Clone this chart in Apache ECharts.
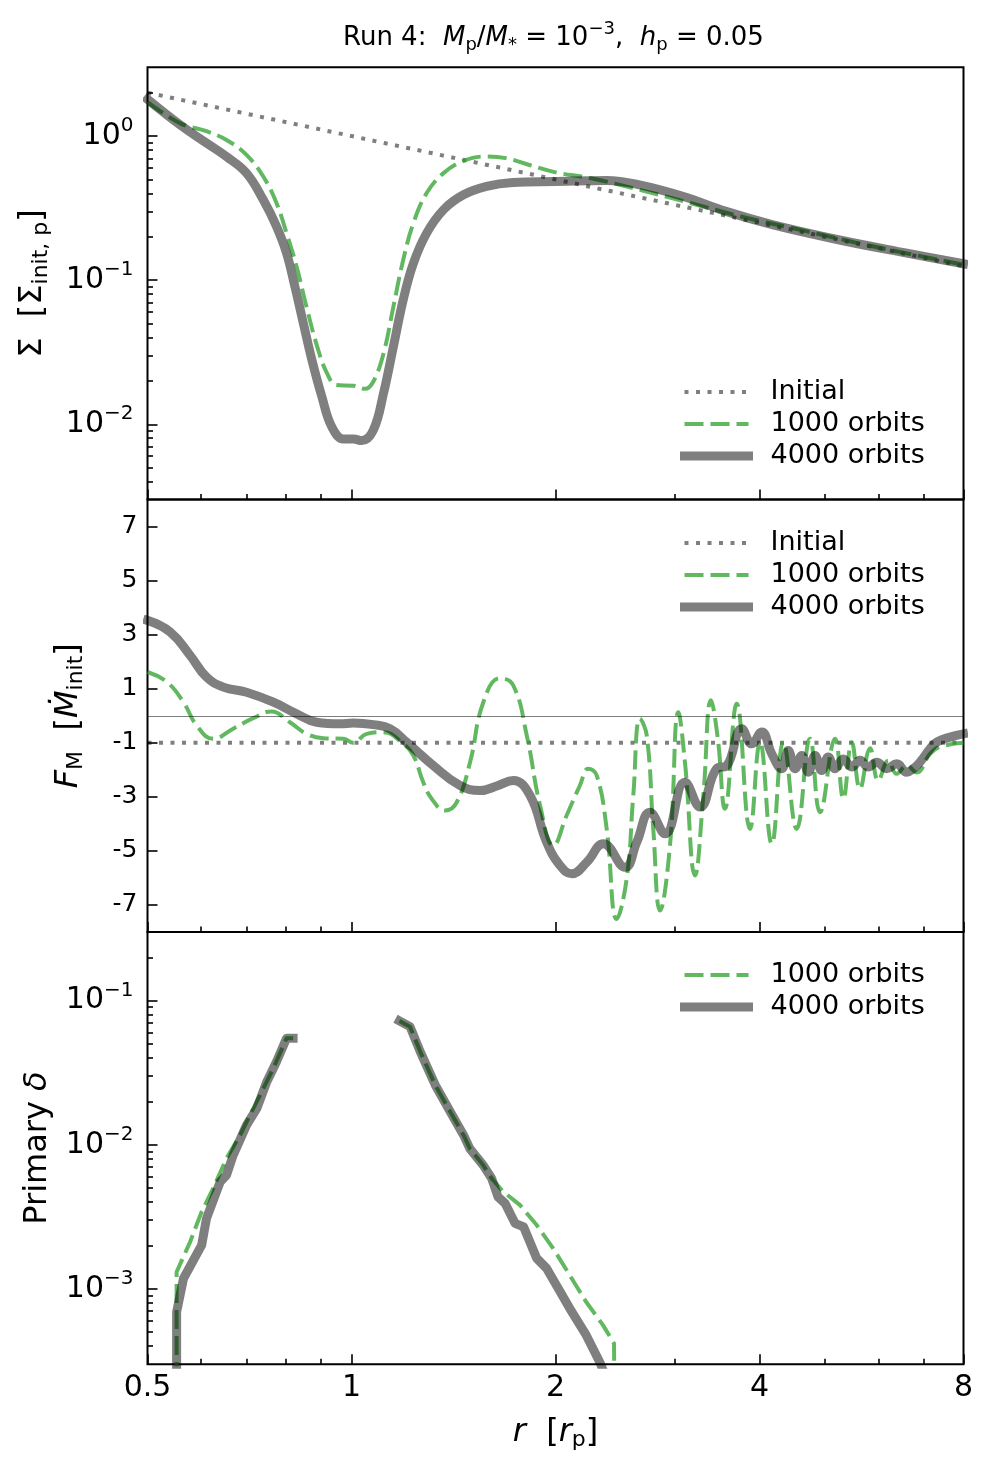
<!DOCTYPE html>
<html>
<head>
<meta charset="utf-8">
<script src="https://cdn.jsdelivr.net/npm/echarts@6/dist/echarts.min.js"></script>
<style>
  html, body { margin: 0; padding: 0; background: #fff; }
  #chart { width: 996px; height: 1478px; }
</style>
</head>
<body>
<div id="chart"></div>
<script>
// ---- ticks ----
const rMajor = [0.5, 1, 2, 4, 8];
const rMinor = [0.6, 0.7, 0.8, 0.9, 3, 5, 6, 7];
const sigmaMajor = [0.01, 0.1, 1];
const sigmaMinor = [0.004, 0.005, 0.006, 0.007, 0.008, 0.009,
  0.02, 0.03, 0.04, 0.05, 0.06, 0.07, 0.08, 0.09,
  0.2, 0.3, 0.4, 0.5, 0.6, 0.7, 0.8, 0.9, 2];
const fluxTicks = [-7, -5, -3, -1, 1, 3, 5, 7];
const deltaMajor = [0.001, 0.01, 0.1];
const deltaMinor = [0.0004, 0.0005, 0.0006, 0.0007, 0.0008, 0.0009,
  0.002, 0.003, 0.004, 0.005, 0.006, 0.007, 0.008, 0.009,
  0.02, 0.03, 0.04, 0.05, 0.06, 0.07, 0.08, 0.09, 0.2];

// ---- panel 1: surface density [r, Sigma] ----
const sigmaInit = [[0.5, 2], [1, 1], [2, 0.5], [4, 0.25], [8, 0.125]];
const sigma1000 = [[0.5, 1.72], [0.558, 1.23], [0.611, 1.08], [0.654, 0.94], [0.70, 0.74],
  [0.741, 0.524], [0.775, 0.343], [0.802, 0.212], [0.83, 0.124], [0.858, 0.0656],
  [0.89, 0.0346], [0.92, 0.0226], [0.95, 0.0187], [1.007, 0.0185], [1.047, 0.0176],
  [1.077, 0.0198], [1.115, 0.031], [1.153, 0.0656], [1.192, 0.138], [1.234, 0.249],
  [1.291, 0.402], [1.367, 0.553], [1.463, 0.673], [1.582, 0.722], [1.69, 0.703],
  [1.83, 0.63], [2.0, 0.56], [2.25, 0.511], [2.66, 0.424], [3.16, 0.343],
  [3.75, 0.277], [4.7, 0.218], [5.9, 0.171], [8, 0.128]];
const sigma4000 = [[0.5, 1.80], [0.558, 1.20], [0.611, 0.894], [0.654, 0.72], [0.70, 0.553],
  [0.741, 0.361], [0.775, 0.236], [0.802, 0.154], [0.825, 0.0903], [0.849, 0.0503],
  [0.874, 0.028], [0.904, 0.0156], [0.935, 0.0096], [0.973, 0.0079], [1.007, 0.0079],
  [1.035, 0.0077], [1.077, 0.0091], [1.115, 0.0164], [1.153, 0.0346], [1.192, 0.073],
  [1.234, 0.131], [1.291, 0.212], [1.367, 0.308], [1.463, 0.391], [1.582, 0.447],
  [1.73, 0.476], [2.0, 0.484], [2.38, 0.492], [2.66, 0.459], [3.09, 0.381],
  [3.57, 0.30], [4.19, 0.242], [5.25, 0.19], [6.6, 0.154], [8, 0.130]];

// ---- panel 2: mass flux [r, F_M] ----
const fluxInit = [[0.5, -1], [8, -1]];
const flux1000 = [[0.5, 1.62], [0.534, 1.25], [0.565, 0.5], [0.591, -0.36], [0.625, -0.85],
  [0.669, -0.48], [0.716, -0.09], [0.762, 0.16], [0.811, -0.24], [0.859, -0.67],
  [0.909, -0.83], [0.973, -0.85], [1.006, -1.0], [1.053, -0.67], [1.114, -0.61],
  [1.192, -1.04], [1.234, -1.47], [1.276, -2.46], [1.313, -3.07], [1.374, -3.51],
  [1.43, -3.2], [1.496, -1.72], [1.565, 0.5], [1.656, 1.39], [1.733, 1.12],
  [1.814, -0.73], [1.898, -3.32], [1.985, -4.8], [2.077, -3.69], [2.173, -2.58],
  [2.236, -1.96], [2.301, -2.21], [2.38, -4.19], [2.462, -7.52], [2.547, -6.04],
  [2.605, -2.95], [2.665, -0.11], [2.727, -0.73], [2.788, -4.19], [2.853, -7.21],
  [2.951, -4.8], [3.036, 0.13], [3.105, -1.72], [3.213, -5.91], [3.305, -2.95],
  [3.392, 0.57], [3.47, -0.8], [3.557, -3.44], [3.702, 0.44], [3.873, -4.19],
  [4.007, -0.98], [4.17, -4.74], [4.338, -0.98], [4.539, -4.19], [4.749, -0.85],
  [4.913, -3.57], [5.17, -0.85], [5.318, -3.07], [5.472, -0.98], [5.628, -2.7],
  [5.823, -1.2], [5.989, -2.4], [6.197, -1.66], [6.376, -2.15], [6.597, -1.84],
  [6.824, -2.1], [7.138, -1.41], [7.385, -1.15], [8, -1.0]];
const flux4000 = [[0.5, 3.53], [0.54, 3.1], [0.578, 2.23], [0.611, 1.43], [0.647, 1.06],
  [0.70, 0.87], [0.767, 0.5], [0.83, 0.07], [0.888, -0.24], [0.962, -0.3],
  [1.006, -0.27], [1.077, -0.33], [1.14, -0.48], [1.206, -0.98], [1.32, -1.84],
  [1.446, -2.58], [1.548, -2.77], [1.638, -2.6], [1.733, -2.4], [1.834, -2.95],
  [1.941, -4.68], [2.031, -5.54], [2.113, -5.85], [2.224, -5.42], [2.353, -4.74],
  [2.533, -5.61], [2.636, -4.68], [2.757, -3.57], [2.901, -4.37], [3.105, -2.46],
  [3.268, -3.38], [3.459, -1.95], [3.578, -1.85], [3.766, -0.48], [3.896, -1.04],
  [4.03, -0.6], [4.17, -1.41], [4.314, -1.96], [4.411, -1.29], [4.513, -1.96],
  [4.617, -1.47], [4.721, -2.09], [4.83, -1.47], [4.942, -2.03], [5.053, -1.53],
  [5.17, -1.96], [5.318, -1.6], [5.471, -1.9], [5.628, -1.65], [5.788, -1.9],
  [5.957, -1.72], [6.163, -1.96], [6.376, -1.78], [6.597, -2.09], [6.746, -1.96],
  [6.9, -1.72], [7.138, -1.23], [7.303, -0.98], [7.642, -0.79], [8, -0.67]];

// ---- panel 3: primary delta [r, delta], inner and outer branch ----
const deltaIn1000 = [[0.552, 0.0001], [0.552, 0.00131], [0.578, 0.00212], [0.601, 0.00343],
  [0.625, 0.00498], [0.654, 0.00805], [0.685, 0.01167], [0.708, 0.01606], [0.733, 0.0221],
  [0.767, 0.034], [0.802, 0.0548], [0.82, 0.0548]];
const deltaOut1000 = [[1.177, 0.0723], [1.22, 0.066], [1.263, 0.0443], [1.329, 0.026],
  [1.398, 0.017], [1.463, 0.0117], [1.495, 0.0094], [1.565, 0.0072], [1.61, 0.00584],
  [1.675, 0.00472], [1.773, 0.00381], [1.876, 0.00277], [1.985, 0.0019], [2.1, 0.00124],
  [2.22, 0.00081], [2.35, 0.00056], [2.44, 0.000418], [2.445, 0.0001]];
const deltaIn4000 = [[0.552, 0.0001], [0.552, 0.00069], [0.565, 0.00118], [0.601, 0.00201],
  [0.611, 0.00308], [0.64, 0.00553], [0.654, 0.00616], [0.669, 0.00848], [0.70, 0.0137],
  [0.725, 0.0179], [0.75, 0.0274], [0.775, 0.0377], [0.802, 0.0548], [0.82, 0.0548]];
const deltaOut4000 = [[1.177, 0.0723], [1.22, 0.066], [1.263, 0.0443], [1.329, 0.026],
  [1.398, 0.017], [1.463, 0.0117], [1.495, 0.0094], [1.565, 0.0072], [1.61, 0.00584],
  [1.645, 0.00435], [1.685, 0.00392], [1.743, 0.00285], [1.795, 0.00269], [1.876, 0.00163],
  [1.94, 0.00139], [2.1, 0.00073], [2.22, 0.000477], [2.33, 0.000303], [2.36, 0.00026]];

const FONT = 'DejaVu Sans';
const GREEN = 'rgba(44,160,44,0.75)';
const GREY = 'rgba(0,0,0,0.5)';

const chart = echarts.init(document.getElementById('chart'));

const powRich = {
  b: { fontFamily: FONT, fontSize: 30, lineHeight: 40, color: '#000' },
  p: { fontFamily: FONT, fontSize: 20, lineHeight: 20, verticalAlign: 'top', color: '#000' }
};
const nameRich = {
  n: { fontFamily: FONT, fontSize: 32, lineHeight: 44, color: '#000' },
  i: { fontFamily: FONT, fontSize: 32, lineHeight: 44, fontStyle: 'italic', color: '#000' },
  s: { fontFamily: FONT, fontSize: 22, lineHeight: 22, verticalAlign: 'bottom', padding: [0, 0, 3, 0], color: '#000' }
};

function powLabel(v) {
  const e = Math.round(Math.log10(v));
  return '{b|10}{p|' + (e < 0 ? '\u2212' + (-e) : e) + '}';
}

const tickLine = { color: '#000', width: 1.6 };

function rAxis(grid, ticks, len, withLabels) {
  const ax = {
    type: 'log', logBase: 2, min: 0.5, max: 8, gridIndex: grid, position: 'bottom',
    axisLine: { show: false, onZero: false },
    axisTick: { show: true, inside: true, length: len, customValues: ticks, lineStyle: tickLine },
    axisLabel: { show: false },
    splitLine: { show: false }
  };
  if (withLabels) {
    ax.axisLabel = {
      show: true, customValues: ticks, margin: 6, fontFamily: FONT, fontSize: 30,
      lineHeight: 36, color: '#000', formatter: v => String(+(+v).toPrecision(3))
    };
    ax.name = '{i|r}{n|  [}{i|r}{s|p}{n|]}';
    ax.nameLocation = 'middle';
    ax.nameGap = 46;
    ax.nameTextStyle = { rich: nameRich };
  }
  return ax;
}

function logY(grid, min, max, ticks, len, withLabels) {
  return {
    type: 'log', logBase: 10, min: min, max: max, gridIndex: grid, position: 'left',
    axisLine: { show: false, onZero: false },
    axisTick: { show: true, inside: true, length: len, customValues: ticks, lineStyle: tickLine },
    axisLabel: withLabels
      ? { show: true, customValues: ticks, margin: 14, formatter: powLabel, rich: powRich }
      : { show: false },
    splitLine: { show: false }
  };
}

const yAxes = [
  Object.assign(logY(0, 0.003, 3, sigmaMajor, 10, true), {
    name: '{n|\u03a3  [\u03a3}{s|init, p}{n|]}', nameLocation: 'middle', nameRotate: 90,
    nameGap: 86, nameTextStyle: { rich: nameRich }
  }),
  logY(0, 0.003, 3, sigmaMinor, 5.5, false),
  {
    type: 'value', min: -8, max: 8, gridIndex: 1, position: 'left',
    axisLine: { show: false, onZero: false },
    axisTick: { show: true, inside: true, length: 10, customValues: fluxTicks, lineStyle: tickLine },
    axisLabel: { show: true, customValues: fluxTicks, margin: 10, fontFamily: FONT, fontSize: 25, color: '#000' },
    splitLine: { show: false },
    name: '{i|F}{s|M}{n|  [}{i|\u1e40}{s|init}{n|]}', nameLocation: 'middle', nameRotate: 90,
    nameGap: 57, nameTextStyle: { rich: nameRich }
  },
  Object.assign(logY(2, 0.0003, 0.3, deltaMajor, 10, true), {
    name: '{n|Primary }{i|\u03b4}', nameLocation: 'middle', nameRotate: 90,
    nameGap: 88, nameTextStyle: { rich: nameRich }
  }),
  logY(2, 0.0003, 0.3, deltaMinor, 5.5, false)
];

const xAxes = [
  rAxis(0, rMajor, 10, false), rAxis(0, rMinor, 5.5, false),
  rAxis(1, rMajor, 10, false), rAxis(1, rMinor, 5.5, false),
  rAxis(2, rMajor, 10, true), rAxis(2, rMinor, 5.5, false)
];

function gridAt(top) {
  return {
    left: 147.5, width: 816, top: top, height: 432.3, show: true,
    borderColor: '#000', borderWidth: 2, backgroundColor: 'transparent',
    containLabel: false, outerBoundsMode: 'none'
  };
}

function line(name, xi, yi, data, smooth) {
  const s = {
    name: name, type: 'line', xAxisIndex: xi, yAxisIndex: yi, data: data,
    symbol: 'none', showSymbol: false, silent: true, smooth: smooth,
    emphasis: { disabled: true }
  };
  if (name === 'Initial') {
    s.lineStyle = { color: GREY, width: 4, type: [4, 7.5], cap: 'butt' };
    s.itemStyle = { color: GREY };
  } else if (name === '1000 orbits') {
    s.lineStyle = { color: GREEN, width: 4, type: [19, 7], cap: 'butt', join: 'round' };
    s.itemStyle = { color: GREEN };
  } else {
    s.lineStyle = { color: GREY, width: 9, cap: 'square', join: 'round' };
    s.itemStyle = { color: GREY };
  }
  return s;
}

function legendAt(top, names) {
  return {
    orient: 'vertical', left: 680, top: top, padding: 0, itemGap: 0,
    itemWidth: 64, itemHeight: 32, selectedMode: false, data: names,
    itemStyle: { opacity: 0 },
    lineStyle: { width: 'inherit' },
    formatter: n => '{t|' + n + '}',
    textStyle: {
      fontSize: 27, lineHeight: 32, fontFamily: FONT,
      rich: { t: { fontFamily: FONT, fontSize: 27, lineHeight: 32, color: '#000', padding: [0, 0, 0, 17] } }
    }
  };
}

const zeroLine = {
  silent: true, symbol: 'none', label: { show: false }, animation: false,
  lineStyle: { color: GREY, width: 1.2, type: 'solid' },
  data: [{ yAxis: 0 }]
};

const flux0 = line('Initial', 2, 2, fluxInit, false);
flux0.markLine = zeroLine;

const titleRich = {
  n: { fontFamily: FONT, fontSize: 26, fontWeight: 'normal', lineHeight: 40, color: '#000' },
  i: { fontFamily: FONT, fontSize: 26, fontWeight: 'normal', lineHeight: 40, fontStyle: 'italic', color: '#000' },
  s: { fontFamily: FONT, fontSize: 18, fontWeight: 'normal', lineHeight: 18, verticalAlign: 'bottom', padding: [0, 0, 4, 0], color: '#000' },
  u: { fontFamily: FONT, fontSize: 18, fontWeight: 'normal', lineHeight: 18, verticalAlign: 'top', padding: [2, 0, 0, 0], color: '#000' }
};

chart.setOption({
  animation: false,
  backgroundColor: '#fff',
  textStyle: { fontFamily: FONT },
  title: {
    text: '{n|Run 4:  }{i|M}{s|p}{n|/}{i|M}{s|*}{n| = 10}{u|\u22123}{n|,  }{i|h}{s|p}{n| = 0.05}',
    left: 343, top: 18, padding: 0,
    textStyle: { fontWeight: 'normal', rich: titleRich }
  },
  grid: [gridAt(67.3), gridAt(499.6), gridAt(931.9)],
  xAxis: xAxes,
  yAxis: yAxes,
  legend: [
    legendAt(376, ['Initial', '1000 orbits', '4000 orbits']),
    legendAt(527, ['Initial', '1000 orbits', '4000 orbits']),
    legendAt(959, ['1000 orbits', '4000 orbits'])
  ],
  series: [
    line('Initial', 0, 0, sigmaInit, false),
    line('1000 orbits', 0, 0, sigma1000, 0.4),
    line('4000 orbits', 0, 0, sigma4000, 0.4),
    flux0,
    line('1000 orbits', 2, 2, flux1000, 0.45),
    line('4000 orbits', 2, 2, flux4000, 0.45),
    line('1000 orbits', 4, 3, deltaIn1000.concat([[1, '-']], deltaOut1000), false),
    line('4000 orbits', 4, 3, deltaIn4000.concat([[1, '-']], deltaOut4000), false)
  ]
});
</script>
</body>
</html>
